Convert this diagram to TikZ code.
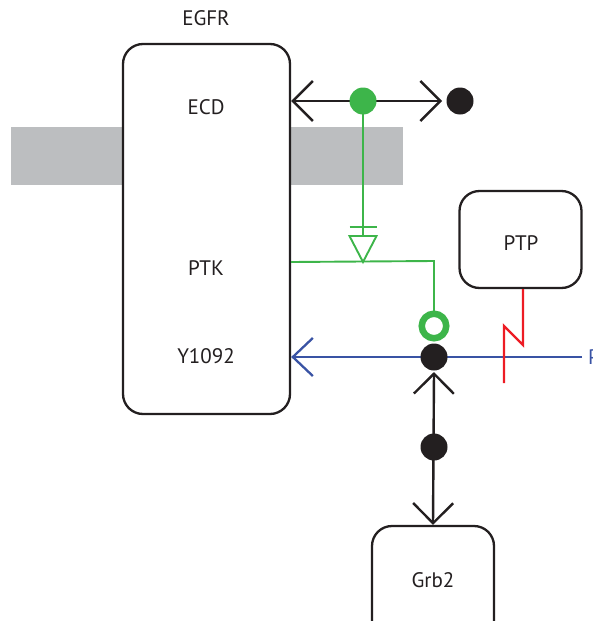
\documentclass[tikz,border=0pt]{standalone}
\usepackage{fontspec}
\setmainfont{PT Sans}
\usetikzlibrary{arrows.meta}
\definecolor{mgreen}{RGB}{61,181,74}
\definecolor{mblack}{RGB}{35,31,32}
\definecolor{mblue}{RGB}{57,83,164}
\definecolor{mred}{RGB}{237,28,36}
\definecolor{mgray}{RGB}{188,190,192}
\tikzset{
  box/.style={draw=mblack,line width=2.3pt,rounded corners=20pt,fill=white,inner sep=0pt},
  lbl/.style={font=\fontsize{21}{24}\selectfont,text=mblack,inner sep=0pt},
  dot/.style={circle,fill=mblack,minimum size=27pt,inner sep=0pt},
  gdotst/.style={circle,fill=mgreen,minimum size=27pt,inner sep=0pt},
  ringst/.style={circle,draw=mgreen,line width=6.5pt,minimum size=24.5pt,inner sep=0pt},
  barb/.style={line width=2.4pt,draw=mblack},
  tip/.tip={Straight Barb[length=20pt,width=40pt,line width=2.4pt]},
  gline/.style={draw=mgreen,line width=1.9pt},
}
\begin{document}
\begin{tikzpicture}[x=1pt,y=-1pt]
\useasboundingbox (0,0) rectangle (592,621);
% membrane
\fill[mgray] (11,127) rectangle (403,185);
% boxes
\node[box,minimum width=167pt,minimum height=370pt] (egfr) at (206.5,229) {};
\node[box,minimum width=122pt,minimum height=97pt] (ptp) at (520.5,239.5) {};
\node[box,minimum width=122pt,minimum height=120pt] (grb2) at (433,586) {};
% labels
\node[lbl] (egfrl) at (206,18) {EGFR};
\node[lbl] (ecd) at (206,107) {ECD};
\node[lbl] (ptk) at (206,268) {PTK};
\node[lbl] (y1092) at (206,356) {Y1092};
\node[lbl] (ptpl) at (521,243) {PTP};
\node[lbl] (grb2l) at (433,580) {Grb2};
\node[lbl,text=mblue,anchor=west] (pl) at (588,357) {P};
% dots positions
\coordinate (gd) at (363,101);
\coordinate (bd1) at (460,101);
\coordinate (rg) at (434,326);
\coordinate (bd2) at (434,357);
\coordinate (bd3) at (434,447);
\coordinate (bar) at (363,227);
\coordinate (tri) at (363,236);
\coordinate (apex) at (363,262);
\coordinate (gh) at (434,261);
\coordinate (blend) at (582,357);
\coordinate (rz1) at (523,345);
\coordinate (rz2) at (504,326);
\coordinate (rz3) at (504,383);
% black horizontal double arrow
\draw[barb,{tip}-{tip}] (egfr.east |- gd) -- ([xshift=-18pt]bd1);
% blue arrow
\draw[draw=mblue,line width=2.3pt,-{Straight Barb[length=20pt,width=38pt,line width=2.3pt]}] (blend) -- (egfr.east |- bd2);
% vertical double arrow
\draw[barb,{tip}-{tip}] ([yshift=-15pt]bd2) -- (grb2.north);
% green path
\draw[gline] (gd) -- (tri);
\draw[gline] ([xshift=-13.5pt]bar) -- ([xshift=13.5pt]bar);
\draw[gline,line join=miter] ([xshift=-13.5pt]tri) -- ([xshift=13.5pt]tri) -- (apex) -- cycle;
\draw[gline] (egfr.east |- apex) -- (gh) -- ([yshift=15pt]rg);
% red zigzag
\draw[draw=mred,line width=2.3pt] (ptp.south -| rz1) -- (rz1) -- (rz2) -- (rz3);
% dots
\node[gdotst] (gdot) at (gd) {};
\node[dot] (bdot1) at (bd1) {};
\node[ringst] (ring) at (rg) {};
\node[dot] (bdot2) at (bd2) {};
\node[dot] (bdot3) at (bd3) {};
\end{tikzpicture}
\end{document}
